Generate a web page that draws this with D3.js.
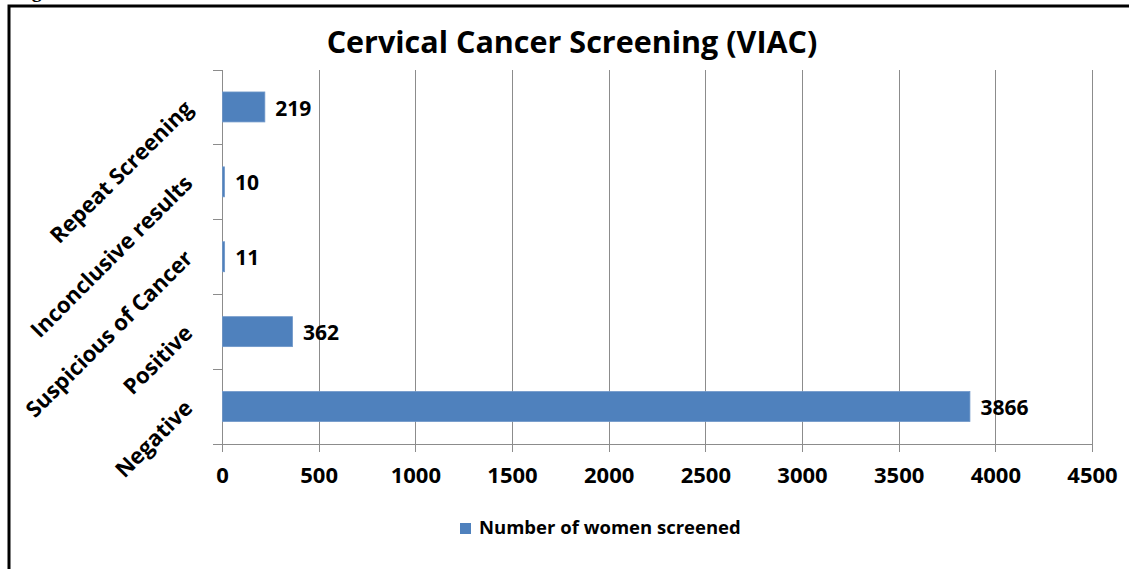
<!doctype html>
<html>
    <head>
        <style>
            body {margin:0; background:#fff;}
            svg {width:1129px; height:569px; display:block}
            text {font-family:"Open Sans", sans-serif; font-weight:bold; fill:#000;}
            .grid line {stroke:#8c8c8c; stroke-width:1; shape-rendering:crispEdges;}
            .axis path, .axis line {stroke:#8c8c8c; shape-rendering:crispEdges;}
        </style>
        <script src="https://d3js.org/d3.v7.min.js"></script>
    </head>
    <body>
        <script>
            // data
            var categories = ["Negative","Positive","Suspicious of Cancer","Inconclusive results","Repeat Screening"];
            var values = [3866,362,11,10,219];
            var xTicks = [0,500,1000,1500,2000,2500,3000,3500,4000,4500];
            var seriesName = "Number of women screened";
            var title = "Cervical Cancer Screening (VIAC)";

            // plot box (note: "top" is reserved on window, so plotTop)
            var plotLeft=222, plotRight=1092, plotTop=69.5, plotBottom=444;
            var barColor="#4f81bd";

            var svg = d3.select("body").append("svg");

            // outer frame (cut off at right and bottom)
            svg.append("rect")
                .attr("x",9).attr("y",6)
                .attr("width",1300).attr("height",800)
                .attr("fill","none").attr("stroke","#000").attr("stroke-width",3);
            // clipped caption above the frame
            svg.append("text").attr("x",14).attr("y",-3)
                .style("font-family","'Liberation Serif', serif")
                .style("font-size","20px").text("Fig");

            var x = d3.scaleLinear().domain([0,4500]).range([plotLeft,plotRight]);
            var y = d3.scaleBand().domain(categories.slice().reverse())
                .range([plotTop,plotBottom]).paddingInner(0.6).paddingOuter(0.3);
            var yb = d3.scaleBand().domain(categories.slice().reverse()).range([plotTop,plotBottom]);

            // title
            svg.append("text").attr("x",572).attr("y",53)
                .attr("text-anchor","middle").style("font-size","30.5px").text(title);

            // vertical gridlines
            svg.append("g").attr("class","grid").selectAll("line")
                .data(xTicks.slice(1)).enter().append("line")
                .attr("x1",function(d){return Math.round(x(d))+0.5}).attr("x2",function(d){return Math.round(x(d))+0.5})
                .attr("y1",plotTop).attr("y2",plotBottom);

            // y axis with ticks at category boundaries
            var ya = svg.append("g").attr("class","axis");
            ya.append("line").attr("x1",plotLeft+0.5).attr("x2",plotLeft+0.5).attr("y1",plotTop).attr("y2",plotBottom+8);
            ya.selectAll(".yt").data(categories).enter().append("line")
                .attr("class","yt")
                .attr("x1",plotLeft-9).attr("x2",plotLeft)
                .attr("y1",function(d){return Math.round(yb(d))+0.5})
                .attr("y2",function(d){return Math.round(yb(d))+0.5});

            // x axis
            var xAxis = d3.axisBottom(x).tickValues(xTicks).tickFormat(d3.format("d"))
                .tickSizeInner(8).tickSizeOuter(0).tickPadding(15);
            var xa = svg.append("g").attr("class","axis").attr("transform","translate(0,"+plotBottom+")").call(xAxis);
            xa.select(".domain").attr("d","M"+(plotLeft-9)+",0.5H"+plotRight);
            xa.selectAll("text").style("font-size","22px").style("font-family","'Open Sans', sans-serif").attr("fill","#000");

            // category labels, rotated
            svg.append("g").selectAll("text").data(categories).enter().append("text")
                .attr("text-anchor","end")
                .attr("transform",function(d){
                    var cy=yb(d)+yb.bandwidth()/2+3;
                    return "translate(194,"+cy+") rotate(-45)";
                })
                .style("font-size","22px").text(function(d){return d});

            // bars
            svg.append("g").selectAll("rect").data(categories).enter().append("rect")
                .attr("x",x(0)+0.5)
                .attr("y",function(d){return y(d)})
                .attr("width",function(d,i){return x(values[i])-x(0)})
                .attr("height",y.bandwidth())
                .attr("fill",barColor).attr("stroke","#6f97c9").attr("stroke-width",0.8);

            // value labels
            svg.append("g").selectAll("text").data(categories).enter().append("text")
                .attr("x",function(d,i){return x(values[i])+11})
                .attr("y",function(d){return y(d)+y.bandwidth()/2+1})
                .attr("dy","0.36em")
                .style("font-size","21px")
                .text(function(d,i){return values[i]});

            // legend
            var lg = svg.append("g").attr("transform","translate(460,523)");
            lg.append("rect").attr("width",11).attr("height",11).attr("fill",barColor);
            lg.append("text").attr("x",19).attr("y",11).style("font-size","18.5px").text(seriesName);
        </script>
    </body>
</html>
